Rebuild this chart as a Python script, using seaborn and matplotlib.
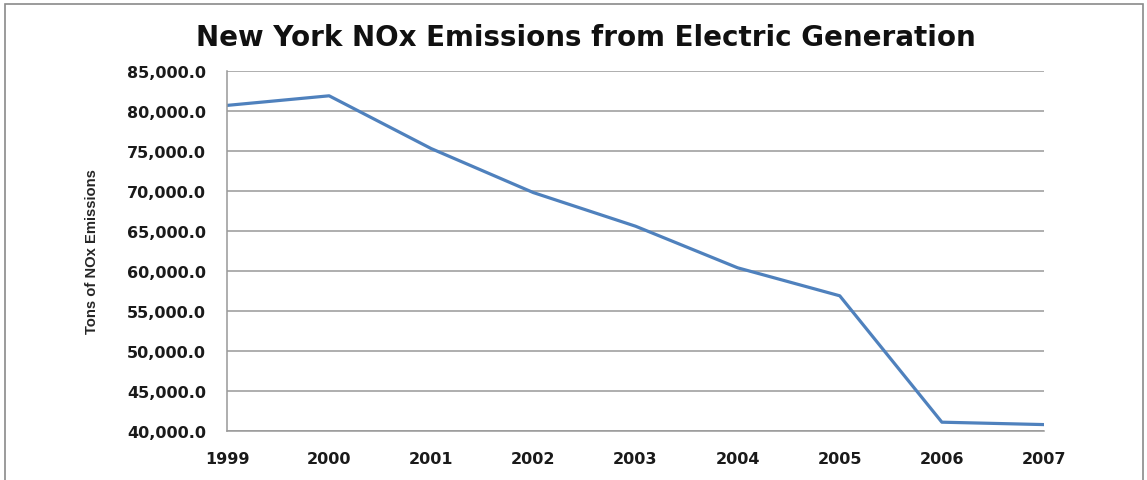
import matplotlib
matplotlib.use("Agg")
import matplotlib.pyplot as plt
from matplotlib.patches import Rectangle
import seaborn as sns
import pandas as pd
from matplotlib.ticker import FuncFormatter, MultipleLocator

years = [1999, 2000, 2001, 2002, 2003, 2004, 2005, 2006, 2007]
nox_tons = [80700, 81900, 75300, 69800, 65600, 60400, 56900, 41100, 40800]

df = pd.DataFrame({"Year": years, "NOx": nox_tons})

sns.set_theme(style="white")
plt.rcParams["font.family"] = ["DejaVu Sans"]

fig = plt.figure(figsize=(11.47, 4.81), dpi=100)
ax = fig.add_axes([0.1979, 0.1019, 0.9102 - 0.1979, 0.8503 - 0.1019])

sns.lineplot(data=df, x="Year", y="NOx", ax=ax, color="#4F81BD", linewidth=2.3)

ax.set_xlim(1999, 2007)
ax.set_ylim(40000, 85000)
ax.yaxis.set_major_locator(MultipleLocator(5000))
ax.set_xticks(years)
ax.yaxis.set_major_formatter(FuncFormatter(lambda v, p: f"{v:,.1f}"))

ax.grid(axis="y", color="#999999", linewidth=1.1)
ax.grid(axis="x", visible=False)
ax.set_axisbelow(True)
for side in ["top", "right"]:
    ax.spines[side].set_visible(False)
for side in ["left", "bottom"]:
    ax.spines[side].set_color("#999999")
    ax.spines[side].set_linewidth(1.1)

ax.tick_params(axis="both", which="major", direction="out", width=1.0,
               color="#999999", labelsize=11.5, labelcolor="#1a1a1a")
ax.tick_params(axis="x", length=3.5, pad=11)
ax.tick_params(axis="y", length=5, pad=10)
for lbl in ax.get_xticklabels() + ax.get_yticklabels():
    lbl.set_fontweight("bold")

ax.set_xlabel("")
ax.set_ylabel("Tons of NOx Emissions", fontsize=10.6, fontweight="bold",
              family=["Liberation Sans Narrow", "Liberation Sans"], labelpad=20)

fig.text(0.511, 0.922, "New York NOx Emissions from Electric Generation",
         ha="center", va="center", fontsize=20, fontweight="bold",
         family=["DejaVu Sans"], color="#111111")

fig.patches.append(Rectangle((5 / 1147, -0.05), (1143 - 5) / 1147, 1 - 5 / 481 + 0.05,
                             transform=fig.transFigure, fill=False,
                             edgecolor="#8a8a8a", linewidth=1.2))

fig.savefig("out.png", dpi=100, facecolor="white")
